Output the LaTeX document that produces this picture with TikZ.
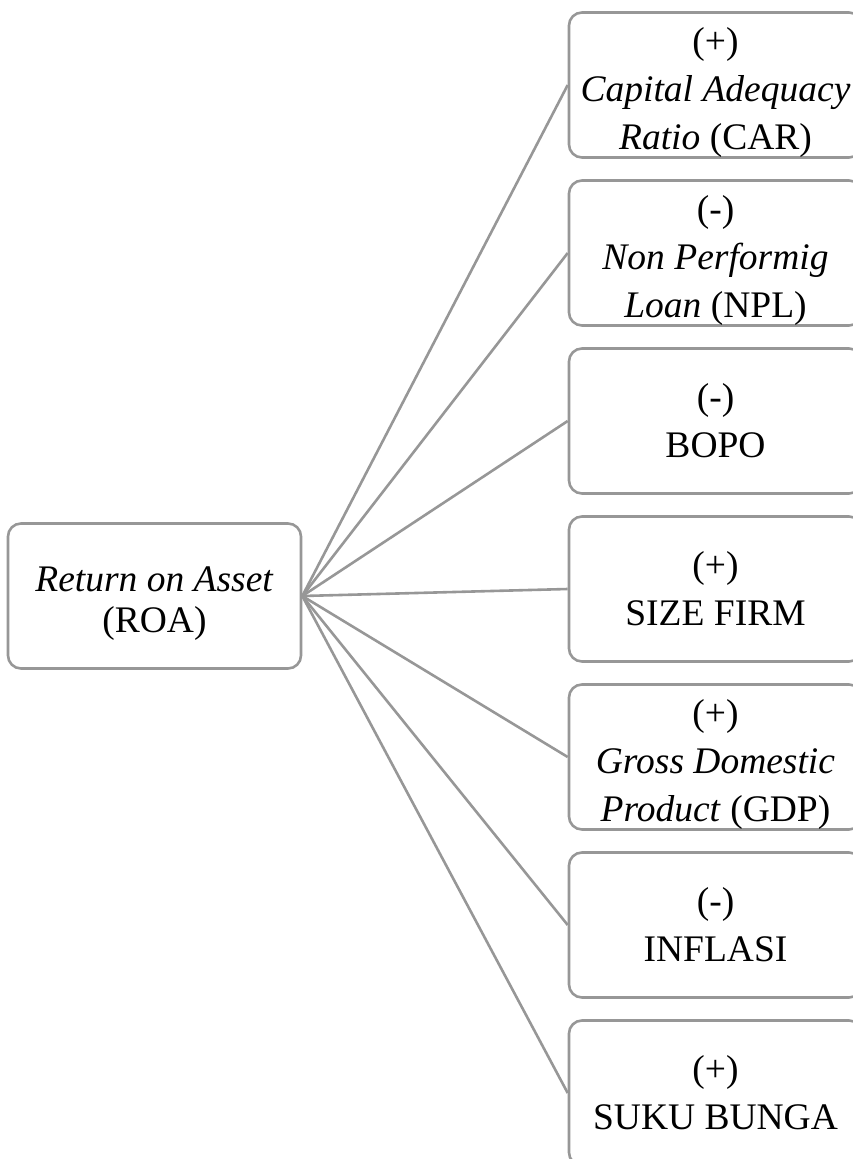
\documentclass[tikz,border=0pt]{standalone}
\usepackage{fontspec}
\setmainfont{Liberation Serif}
\usepackage{tikz}
\usetikzlibrary{positioning}
\definecolor{boxgray}{HTML}{979797}
\newcommand{\padtop}{\rule{0pt}{40pt}} % pushes a text block a little lower
\tikzset{
    every node/.style={font=\fontsize{37.5}{48}\selectfont}, % big text like the original
    box/.style={draw=boxgray, line width=2.6pt, rounded corners=13pt, align=center,
        minimum width=293pt, minimum height=145pt, inner sep=0pt}, % every rounded box
    link/.style={draw=boxgray, line width=2.6pt}, % the plain connectors
}
\begin{document}
\begin{tikzpicture}[
                                x=1pt, y=-1pt,
                                node distance=168pt,
                            ]
                            \useasboundingbox (0,0) rectangle (852,1159);
                            \node[box, font=\fontsize{37.5}{41}\selectfont] (roa) at (154.5,596) {\padtop\textit{Return on Asset}\\(ROA)};
                            \node[box] (car) at (715.5,85) {\padtop(+)\\\textit{Capital Adequacy}\\\textit{Ratio} (CAR)};
                            \node[box, below of=car] (npl) {\padtop(-)\\\textit{Non Performig}\\\textit{Loan} (NPL)};
                            \node[box, below of=npl] (bopo) {(-)\\BOPO};
                            \node[box, below of=bopo] (size) {(+)\\SIZE FIRM};
                            \node[box, below of=size] (gdp) {\padtop(+)\\\textit{Gross Domestic}\\\textit{Product} (GDP)};
                            \node[box, below of=gdp] (infl) {(-)\\INFLASI};
                            \node[box, below of=infl] (suku) {(+)\\SUKU BUNGA};
                            \foreach \t in {car, npl, bopo, size, gdp, infl, suku}
                                \draw[link] (roa.east) -- (\t.west);
                        \end{tikzpicture}
\end{document}
